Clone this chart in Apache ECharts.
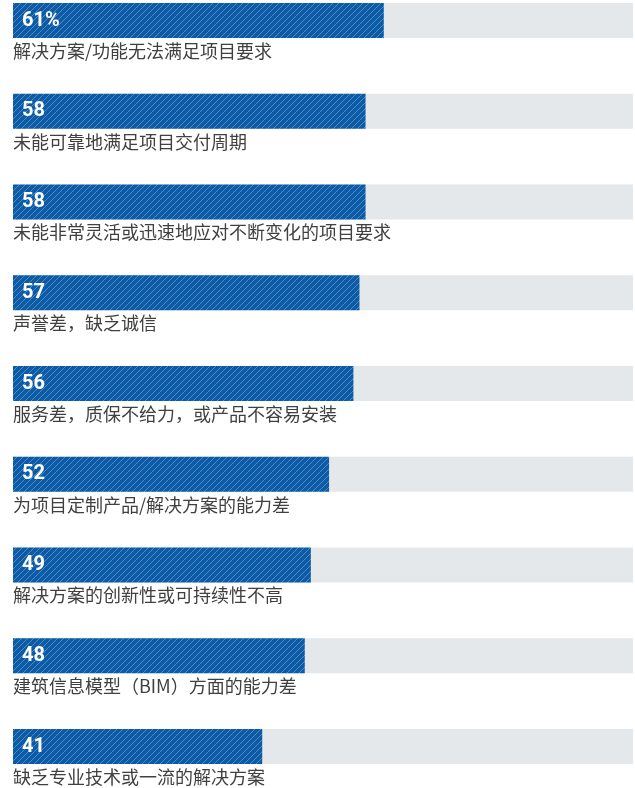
<!DOCTYPE html>
<html>
<head>
<meta charset="utf-8">
<script src="https://cdn.jsdelivr.net/npm/echarts@6/dist/echarts.min.js"></script>
<style>
html,body{margin:0;padding:0;background:#fff;}
#chart{width:635px;height:788px;}
</style>
</head>
<body>
<div id="chart"></div>
<script>
const categories = [
  "解决方案/功能无法满足项目要求",
  "未能可靠地满足项目交付周期",
  "未能非常灵活或迅速地应对不断变化的项目要求",
  "声誉差，缺乏诚信",
  "服务差，质保不给力，或产品不容易安装",
  "为项目定制产品/解决方案的能力差",
  "解决方案的创新性或可持续性不高",
  "建筑信息模型（BIM）方面的能力差",
  "缺乏专业技术或一流的解决方案"
];
const values = [61, 58, 58, 57, 56, 52, 49, 48, 41];
const valueLabels = ["61%", "58", "58", "57", "56", "52", "49", "48", "41"];
const axisMax = 102;

function hatch() {
  const s = 6;
  const c = document.createElement('canvas');
  c.width = s; c.height = s;
  const g = c.getContext('2d');
  g.fillStyle = '#0b5ba6';
  g.fillRect(0, 0, s, s);
  g.strokeStyle = '#5a8ec6';
  g.lineWidth = 0.9;
  g.beginPath();
  g.moveTo(0, s); g.lineTo(s, 0);
  g.moveTo(-1, 1); g.lineTo(1, -1);
  g.moveTo(s - 1, s + 1); g.lineTo(s + 1, s - 1);
  g.stroke();
  return {image: c, repeat: 'repeat'};
}

const chart = echarts.init(document.getElementById('chart'));
const pitch = 90.75;
const barH = 35;
const gridTop = 3 + barH / 2;
chart.setOption({
  animation: false,
  grid: {left: 13, right: 2, top: gridTop, height: pitch * (categories.length - 1)},
  xAxis: {type: 'value', min: 0, max: axisMax, show: false},
  yAxis: {type: 'category', data: categories, inverse: true, show: false, boundaryGap: false},
  series: [
    {
      type: 'bar',
      data: categories.map(() => axisMax),
      barWidth: barH,
      barGap: '-100%',
      silent: true,
      itemStyle: {color: '#e5e8eb'},
      label: {
        show: true,
        position: [0, 48],
        align: 'left',
        verticalAlign: 'middle',
        formatter: p => categories[p.dataIndex],
        fontFamily: '"Noto Sans CJK SC", sans-serif',
        fontSize: 18,
        color: '#404040'
      },
      z: 1
    },
    {
      type: 'bar',
      data: values,
      barWidth: barH,
      barGap: '-100%',
      itemStyle: {color: hatch()},
      label: {
        show: true,
        position: 'insideLeft',
        distance: 9,
        formatter: p => valueLabels[p.dataIndex],
        fontFamily: 'Roboto, sans-serif',
        fontWeight: 'bold',
        fontSize: 20,
        color: '#ffffff'
      },
      z: 2
    }
  ]
});
</script>
</body>
</html>
